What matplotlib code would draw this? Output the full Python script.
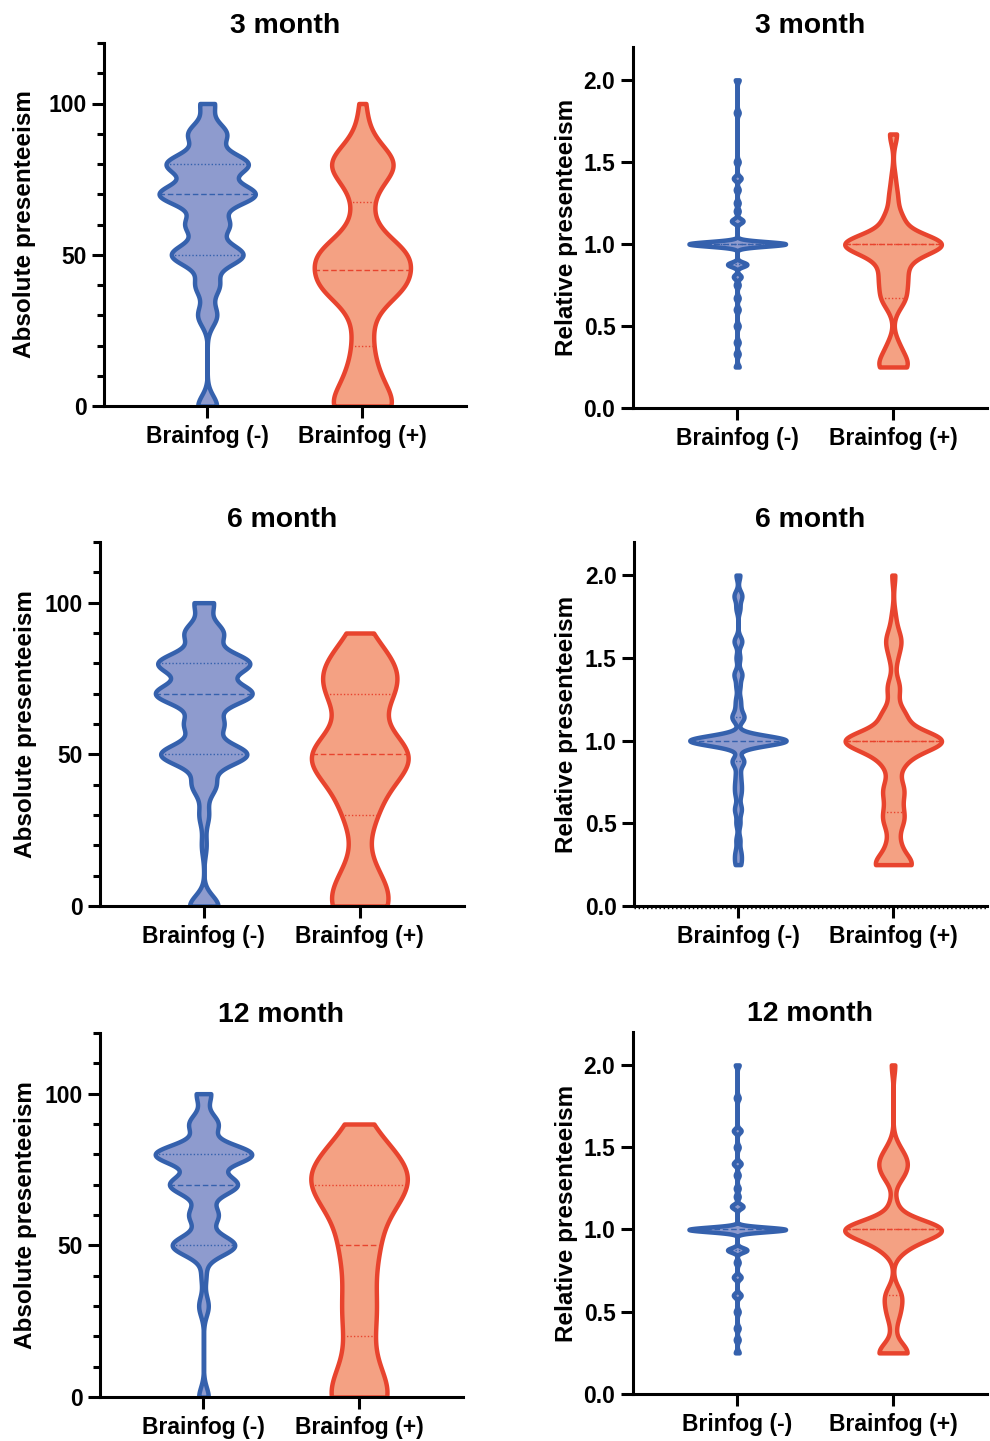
import numpy as np
import matplotlib
matplotlib.use("Agg")
import matplotlib.pyplot as plt
from matplotlib import mlab
from matplotlib.ticker import FormatStrFormatter

plt.rcParams['font.family'] = ['Liberation Sans', 'DejaVu Sans']
plt.rcParams['font.weight'] = 'bold'

# ---------------- data (number of respondents per score) ----------------
abs_scores = [0, 10, 20, 30, 40, 50, 60, 70, 80, 90, 100]
abs_3m_neg = [4, 0, 0, 4, 5, 15, 9, 20, 17, 8, 3]
abs_3m_pos = [11, 5, 3, 3, 14, 15, 3, 3, 12, 2, 1]
abs_6m_neg = [6, 0, 1, 2, 5, 18, 8, 20, 19, 8, 4]
abs_6m_pos = [8, 4, 0, 4, 4, 15, 0, 8, 8, 1, 0]
abs_12m_neg = [2, 0, 0, 2, 1, 13, 6, 14, 20, 6, 3]
abs_12m_pos = [12, 2, 3, 5, 2, 6, 3, 16, 9, 1, 0]

rel_values = [0.25, 0.29, 0.33, 0.375, 0.4, 0.43, 0.5, 0.57, 0.6, 0.625, 0.67, 0.71,
              0.75, 0.8, 0.83, 0.875, 0.9, 1.0, 1.1, 1.14, 1.2, 1.25, 1.29, 1.33,
              1.4, 1.43, 1.5, 1.6, 1.67, 1.75, 1.8, 1.875, 2.0]
rel_3m_neg = [1, 0, 1, 0, 1, 0, 1, 0, 1, 0, 1, 0, 1, 2, 0, 5, 0, 25, 0, 3, 1, 1, 0, 1, 2, 0, 1, 0, 0, 0, 1, 0, 1]
rel_3m_pos = [6, 1, 2, 1, 1, 0, 0, 0, 1, 0, 5, 0, 3, 4, 0, 2, 4, 26, 1, 4, 1, 0, 2, 0, 1, 0, 0, 0, 2, 0, 0, 0, 0]
rel_6m_neg = [1, 1, 1, 0, 1, 0, 1, 1, 1, 0, 1, 1, 1, 1, 0, 3, 0, 25, 0, 3, 1, 1, 0, 1, 2, 0, 1, 2, 0, 0, 1, 2, 1]
rel_6m_pos = [11, 0, 1, 3, 0, 0, 4, 4, 0, 0, 3, 3, 1, 1, 0, 3, 4, 30, 0, 7, 1, 0, 1, 3, 0, 0, 2, 4, 1, 1, 0, 0, 1]
rel_12m_neg = [1, 0, 1, 0, 1, 0, 1, 0, 2, 0, 0, 2, 0, 1, 0, 5, 0, 25, 0, 3, 1, 1, 0, 1, 2, 0, 1, 2, 0, 0, 1, 0, 1]
rel_12m_pos = [8, 0, 0, 0, 1, 0, 3, 0, 4, 0, 0, 0, 0, 0, 0, 0, 6, 26, 0, 2, 0, 0, 0, 4, 3, 3, 2, 0, 0, 0, 0, 0, 1]

titles = ['3 month', '6 month', '12 month']
group_labels = ['Brainfog (-)', 'Brainfog (+)']
group_labels_12m_rel = ['Brinfog (-)', 'Brainfog (+)']

# ---------------- styling ----------------
BLUE_EDGE = '#3561AD'; BLUE_FILL = '#8E9BCE'
RED_EDGE = '#E8442E'; RED_FILL = '#F4A183'
# KDE smoothing (bandwidth in data units) per violin
bw = {'a3n': 3.5, 'a3p': 6.0, 'a6n': 3.5, 'a6p': 8.0, 'a12n': 3.25, 'a12p': 9.0,
      'r3n': 0.014, 'r3p': 0.06, 'r6n': 0.03, 'r6p': 0.06, 'r12n': 0.014, 'r12p': 0.06}

fig = plt.figure(figsize=(9.9, 14.41), dpi=100)
W, H = 990.0, 1441.0


def add_ax(l, r, t, b):
    return fig.add_axes([l / W, 1 - b / H, (r - l) / W, (b - t) / H])


def draw(ax, pos, values, counts, h, fc, ec):
    data = np.repeat(np.asarray(values, float), np.asarray(counts, int))
    f = h / np.std(data, ddof=1)
    parts = ax.violinplot([data], positions=[pos], widths=0.62, showextrema=False,
                          points=2000, bw_method=f)
    body = parts['bodies'][0]
    body.set_facecolor(fc); body.set_edgecolor(ec); body.set_linewidth(3.2)
    body.set_alpha(1); body.set_joinstyle('round'); body.set_zorder(2)
    kde = mlab.GaussianKDE(data, bw_method=f)
    grid = np.linspace(data.min(), data.max(), 2000)
    scale = 0.31 / kde.evaluate(grid).max()
    q1, med, q3 = np.percentile(data, [25, 50, 75], method='weibull')
    for q, ls in [(q1, (0, (1, 1.5))), (q3, (0, (1, 1.5))), (med, (0, (4, 2)))]:
        w = kde.evaluate([q])[0] * scale
        ax.hlines(q, pos - w, pos + w, colors=ec, linestyles=[ls], lw=1.0, zorder=3)


panels = [
    (titles[0], 'abs', (104, 466, 43, 406), (abs_3m_neg, abs_3m_pos), ('a3n', 'a3p'), group_labels, 33),
    (titles[0], 'rel', (633, 987, 47, 408), (rel_3m_neg, rel_3m_pos), ('r3n', 'r3p'), group_labels, 33),
    (titles[1], 'abs', (100, 464, 542, 906), (abs_6m_neg, abs_6m_pos), ('a6n', 'a6p'), group_labels, 527),
    (titles[1], 'rel', (634, 987, 542, 906), (rel_6m_neg, rel_6m_pos), ('r6n', 'r6p'), group_labels, 527),
    (titles[2], 'abs', (100, 463, 1033, 1397), (abs_12m_neg, abs_12m_pos), ('a12n', 'a12p'), group_labels, 1022),
    (titles[2], 'rel', (633, 987, 1032, 1394), (rel_12m_neg, rel_12m_pos), ('r12n', 'r12p'), group_labels_12m_rel, 1021),
]

for title, kind, (l, r, t, b), (cneg, cpos), (kn, kp), xl, tb in panels:
    ax = add_ax(l, r, t, b)
    vals = abs_scores if kind == 'abs' else rel_values
    draw(ax, 1, vals, cneg, bw[kn], BLUE_FILL, BLUE_EDGE)
    draw(ax, 2, vals, cpos, bw[kp], RED_FILL, RED_EDGE)
    for s in ('top', 'right'):
        ax.spines[s].set_visible(False)
    for s in ('left', 'bottom'):
        ax.spines[s].set_linewidth(2.2)
    ax.set_xticks([1, 2])
    ax.set_xticklabels(xl)
    ax.tick_params(axis='both', which='major', length=8.6, width=2.2, labelsize=16.5)
    ax.tick_params(axis='y', pad=4)
    ax.tick_params(axis='x', pad=5)
    if kind == 'abs':
        ax.set_xlim(0.335, 2.668)
        ax.set_ylim(0, 120)
        ax.set_yticks([0, 50, 100])
        ax.set_yticks(np.arange(0, 121, 10), minor=True)
        ax.tick_params(axis='y', which='minor', length=5, width=2.2)
        ax.set_ylabel('Absolute presenteeism', fontsize=17.5, fontweight='bold', va='center')
        ax.yaxis.set_label_coords((25 - l) / (r - l), 0.5)
    else:
        ax.set_xlim(0.331, 2.603)
        ax.set_ylim(0, 2.2)
        ax.set_yticks([0, 0.5, 1.0, 1.5, 2.0])
        ax.yaxis.set_major_formatter(FormatStrFormatter('%.1f'))
        ax.set_ylabel('Relative presenteeism', fontsize=17.5, fontweight='bold', va='center')
        ax.yaxis.set_label_coords((567 - l) / (r - l), 0.5)
        if title == '6 month':
            ax.axhline(-0.014, ls=(0, (1, 2)), lw=1.0, color='black', clip_on=False)
    for lab in ax.get_xticklabels() + ax.get_yticklabels():
        lab.set_fontweight('bold')
    fig.text((l + r) / 2 / W, 1 - tb / H, title, ha='center', va='baseline',
             fontsize=20.4, fontweight='bold')

fig.savefig('out.png', dpi=100)
